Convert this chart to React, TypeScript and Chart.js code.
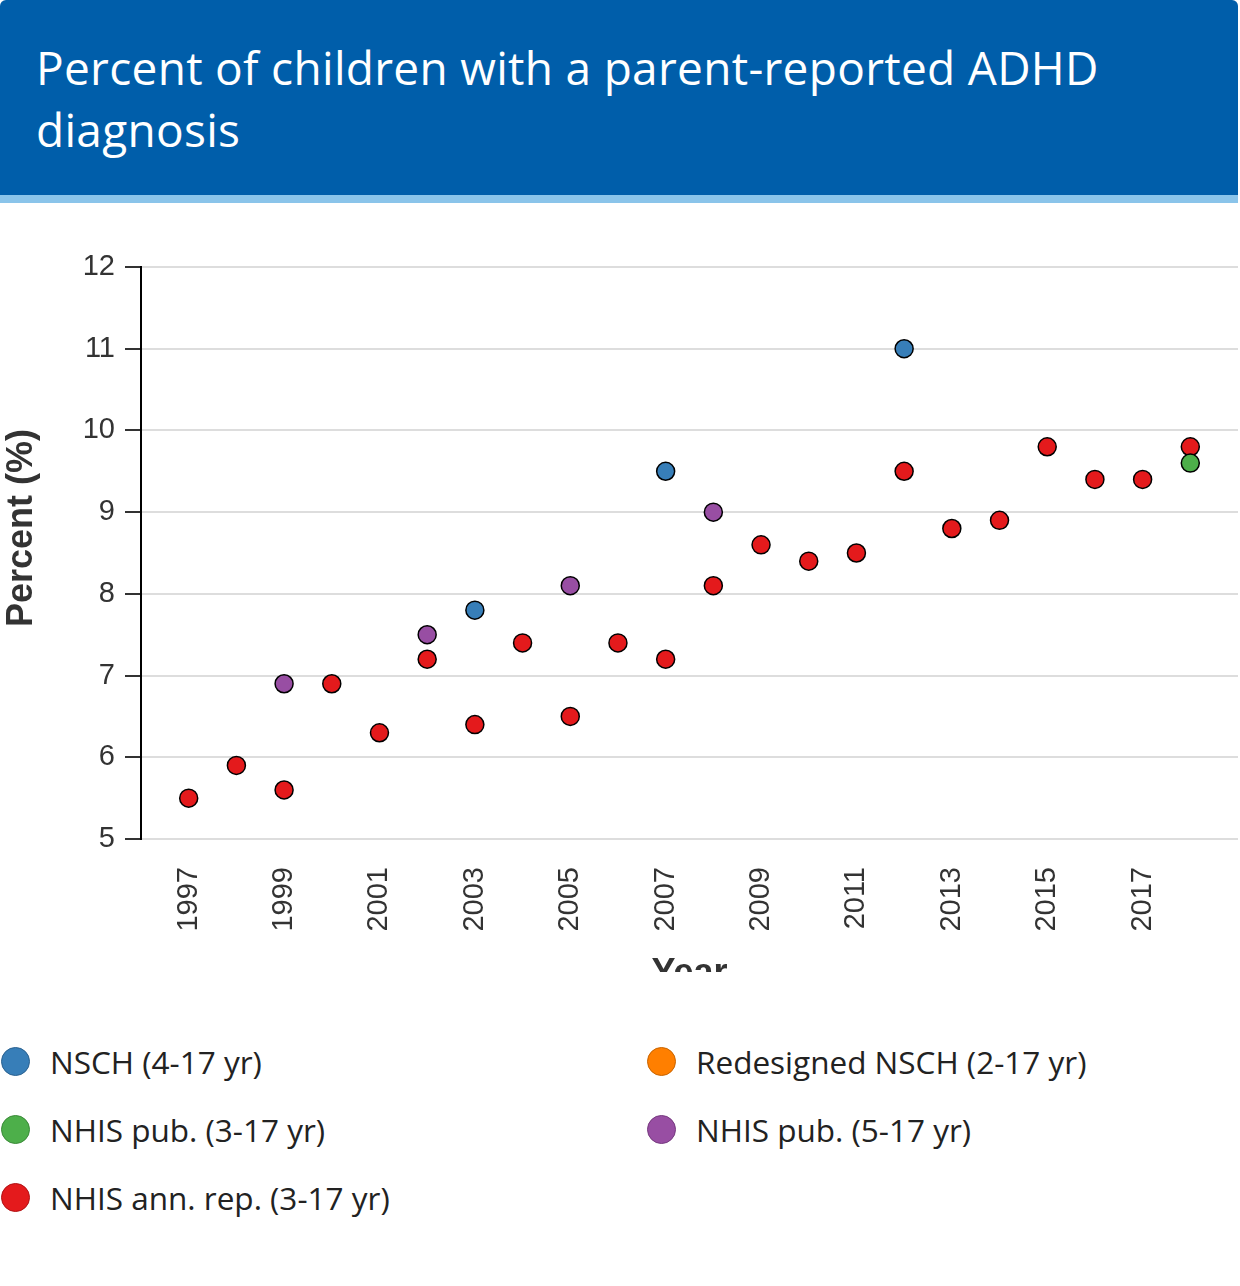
import React, { useEffect, useRef } from "react";
import { Chart, registerables } from "chart.js";

Chart.register(...registerables);

// ---- Data ----
const nschYears = [2003, 2007, 2012];
const nschValues = [7.8, 9.5, 11.0];

const redesignedYears: number[] = [];
const redesignedValues: number[] = [];

const nhisPub3Years = [2018];
const nhisPub3Values = [9.6];

const nhisPub5Years = [1999, 2002, 2005, 2008];
const nhisPub5Values = [6.9, 7.5, 8.1, 9.0];

const nhisAnnYears = [
  1997, 1998, 1999, 2000, 2001, 2002, 2003, 2004, 2005, 2006, 2007,
  2008, 2009, 2010, 2011, 2012, 2013, 2014, 2015, 2016, 2017, 2018,
];
const nhisAnnValues = [
  5.5, 5.9, 5.6, 6.9, 6.3, 7.2, 6.4, 7.4, 6.5, 7.4, 7.2,
  8.1, 8.6, 8.4, 8.5, 9.5, 8.8, 8.9, 9.8, 9.4, 9.4, 9.8,
];

const xTickYears = [1997, 1999, 2001, 2003, 2005, 2007, 2009, 2011, 2013, 2015, 2017];
const yTickValues = [5, 6, 7, 8, 9, 10, 11, 12];

const seriesNames = [
  "NSCH (4-17 yr)",
  "Redesigned NSCH (2-17 yr)",
  "NHIS pub. (3-17 yr)",
  "NHIS pub. (5-17 yr)",
  "NHIS ann. rep. (3-17 yr)",
];
const seriesColors = ["#377eb8", "#ff7f00", "#4daf4a", "#984ea3", "#e41a1c"];
const seriesBorders = ["#2a6190", "#c86400", "#3a8a38", "#76397f", "#b01214"];

const toPoints = (xs: number[], ys: number[]) => xs.map((x, i) => ({ x, y: ys[i] }));

const legendLeft = [0, 2, 4];
const legendRight = [1, 3];

const axisFont = "'Liberation Sans', Arial, Helvetica, sans-serif";

function LegendItem({ idx }: { idx: number }) {
  return (
    <div style={{ display: "flex", alignItems: "center", height: 68 }}>
      <span
        style={{
          display: "inline-block",
          width: 27,
          height: 27,
          borderRadius: "50%",
          background: seriesColors[idx],
          border: `1.5px solid ${seriesBorders[idx]}`,
          marginLeft: 1,
          marginRight: 20,
          flex: "0 0 auto",
        }}
      />
      <span style={{ fontFamily: "'Open Sans', sans-serif", fontSize: 31.5, color: "#222" }}>
        {seriesNames[idx]}
      </span>
    </div>
  );
}

export default function App() {
  const canvasRef = useRef<HTMLCanvasElement | null>(null);

  useEffect(() => {
    document.body.style.margin = "0";
    const canvas = canvasRef.current;
    if (!canvas) return;
    const xs = [nschYears, redesignedYears, nhisPub3Years, nhisPub5Years, nhisAnnYears];
    const ys = [nschValues, redesignedValues, nhisPub3Values, nhisPub5Values, nhisAnnValues];
    const chart = new Chart(canvas, {
      type: "scatter",
      data: {
        datasets: seriesNames.map((name, i) => ({
          label: name,
          data: toPoints(xs[i], ys[i]),
          backgroundColor: seriesColors[i],
          borderColor: "#000",
          borderWidth: 1.5,
          pointRadius: 9,
          pointHoverRadius: 9,
        })),
      },
      options: {
        animation: false,
        responsive: false,
        maintainAspectRatio: false,
        devicePixelRatio: 1,
        layout: { autoPadding: false, padding: { top: 64, right: 2, left: 0, bottom: 0 } },
        plugins: { legend: { display: false }, tooltip: { enabled: false } },
        scales: {
          x: {
            type: "linear",
            min: 1996,
            max: 2019,
            afterBuildTicks: (scale: any) => {
              scale.ticks = xTickYears.map((v) => ({ value: v }));
            },
            afterFit: (scale: any) => {
              scale.height = 157;
              scale.paddingLeft = 0;
              scale.paddingRight = 0;
            },
            grid: { display: false, drawTicks: false },
            border: { display: false },
            ticks: {
              autoSkip: false,
              minRotation: 90,
              maxRotation: 90,
              padding: 28,
              color: "#333",
              font: { family: axisFont, size: 29 },
              callback: (v: any) => String(v),
            },
            title: {
              display: true,
              text: "Year",
              color: "#333",
              padding: { top: 0, bottom: 0 },
              font: { family: axisFont, size: 36, weight: "bold" },
            },
          },
          y: {
            type: "linear",
            min: 5,
            max: 12,
            afterBuildTicks: (scale: any) => {
              scale.ticks = yTickValues.map((v) => ({ value: v }));
            },
            afterFit: (scale: any) => {
              scale.width = 141;
            },
            grid: {
              color: "#dddddd",
              lineWidth: 2,
              tickLength: 16,
              tickColor: "#333",
              tickWidth: 2,
            },
            border: { display: true, color: "#000", width: 2 },
            ticks: {
              padding: 10,
              color: "#333",
              font: { family: axisFont, size: 29 },
              callback: (v: any) => String(v),
            },
            title: {
              display: true,
              text: "     Percent (%)",
              color: "#333",
              padding: { top: 0, bottom: 0 },
              font: { family: axisFont, size: 36, weight: "bold" },
            },
          },
        },
      },
    } as any);
    return () => chart.destroy();
  }, []);

  return (
    <div style={{ width: 1240 }}>
      <div
        style={{
          width: 1238,
          height: 195,
          background: "#005eaa",
          borderTopLeftRadius: 6,
          borderTopRightRadius: 6,
          boxSizing: "border-box",
          padding: "36px 0 0 36px",
        }}
      >
        <div
          style={{
            color: "#fff",
            fontFamily: "'Open Sans', sans-serif",
            fontWeight: 500,
            fontSize: 46,
            letterSpacing: 0.3,
            lineHeight: "62px",
            maxWidth: 1150,
          }}
        >
          Percent of children with a parent-reported ADHD diagnosis
        </div>
      </div>
      <div style={{ width: 1238, height: 8, background: "#8ac4ea" }} />
      <div style={{ width: 1240, height: 769, overflow: "hidden", position: "relative" }}>
        <canvas ref={canvasRef} width={1240} height={793} style={{ display: "block" }} />
      </div>
      <div style={{ display: "flex", paddingTop: 55 }}>
        <div style={{ width: 646 }}>
          {legendLeft.map((i) => (
            <LegendItem key={i} idx={i} />
          ))}
        </div>
        <div>
          {legendRight.map((i) => (
            <LegendItem key={i} idx={i} />
          ))}
        </div>
      </div>
    </div>
  );
}
